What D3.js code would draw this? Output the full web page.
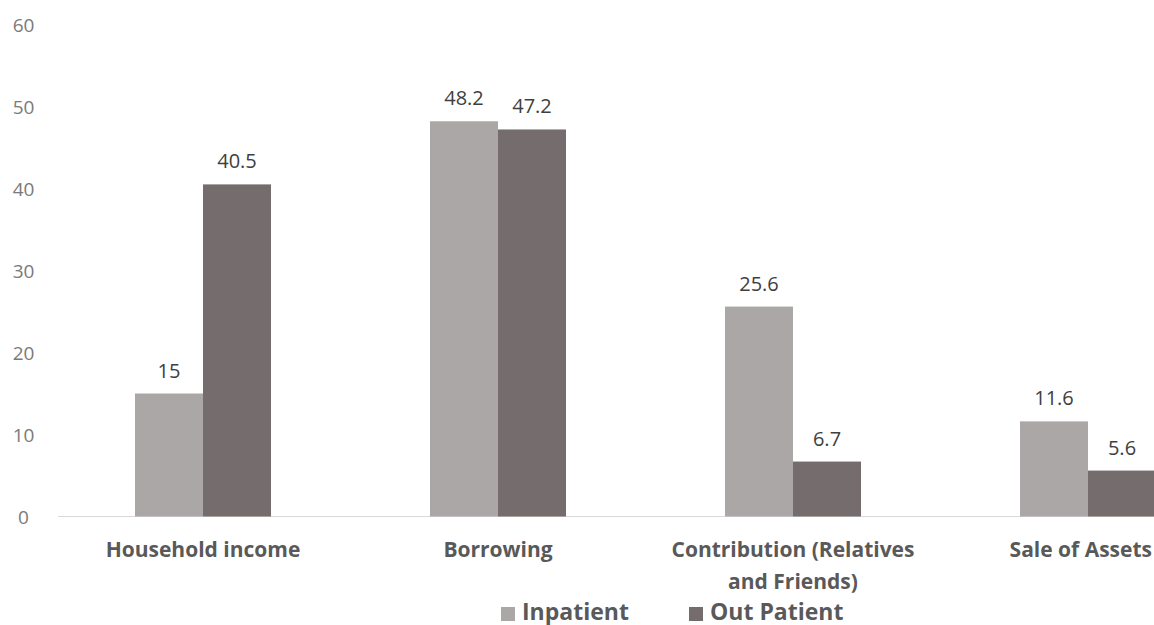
<!DOCTYPE html>
<html><head><meta charset="utf-8">
<script src="https://cdn.jsdelivr.net/npm/d3@7/dist/d3.min.js"></script>
<style>body{margin:0;background:#fff;overflow:hidden}svg{display:block}</style>
</head><body>
<svg id="c" width="1154" height="625"></svg>
<script>
const categories = [["Household income"],["Borrowing"],["Contribution (Relatives","and Friends)"],["Sale of Assets"]];
const series = ["Inpatient","Out Patient"];
const inpatient = [15, 48.2, 25.6, 11.6];
const outpatient = [40.5, 47.2, 6.7, 5.6];
const yTicks = [0,10,20,30,40,50,60];
const colors = ["#aba7a7","#756c6d"];

const W = 1154;
const svg = d3.select("#c");
const font = "'Open Sans', sans-serif";
const y = d3.scaleLinear().domain([0,60]).range([516.5,24.5]);
const x0 = d3.scalePoint().domain(d3.range(categories.length)).range([203,1088]);
const x1 = d3.scaleBand().domain(series).range([-68,68]);

// y tick labels
svg.append("g").selectAll("text").data(yTicks).join("text")
  .attr("x",23.5).attr("y",d=>y(d)+7).attr("text-anchor","middle")
  .attr("font-family",font).attr("font-size",19).attr("fill","#7a7a7a").text(d=>d);

// baseline
svg.append("line").attr("x1",58).attr("x2",W).attr("y1",y(0)).attr("y2",y(0))
  .attr("stroke","#d9d9d9").attr("stroke-width",1);

const data = [inpatient, outpatient];
series.forEach((s,si)=>{
  const g = svg.append("g");
  g.selectAll("rect").data(data[si]).join("rect")
    .attr("x",(d,i)=>x0(i)+x1(s)).attr("width",x1.bandwidth())
    .attr("y",d=>y(d)).attr("height",d=>y(0)-y(d)).attr("fill",colors[si]);
  g.selectAll("text").data(data[si]).join("text")
    .attr("x",(d,i)=>x0(i)+x1(s)+x1.bandwidth()/2).attr("y",d=>y(d)-16)
    .attr("text-anchor","middle").attr("font-family",font).attr("font-size",20)
    .attr("fill","#404040").text(d=>d);
});

// category labels (shifted left if they would overflow the right edge)
const cg = svg.append("g").selectAll("text").data(categories).join("text")
  .attr("y",557).attr("text-anchor","middle")
  .attr("font-family",font).attr("font-size",21).attr("font-weight","bold").attr("fill","#595959");
cg.each(function(d,i){
  const t=d3.select(this);
  d.forEach((line,li)=>t.append("tspan").attr("dy",li?32:0).text(line));
  const w = this.getBBox().width;
  const cx = Math.min(x0(i), W - 2 - w/2);
  t.selectAll("tspan").attr("x",cx);
});

// legend
const legendX = [501, 689];
series.forEach((s,si)=>{
  svg.append("rect").attr("x",legendX[si]).attr("y",607).attr("width",14).attr("height",14).attr("fill",colors[si]);
  svg.append("text").attr("x",legendX[si]+21).attr("y",619.5).attr("font-family",font)
    .attr("font-size",23).attr("font-weight","bold").attr("fill","#595959").text(s);
});
</script>
</body></html>
